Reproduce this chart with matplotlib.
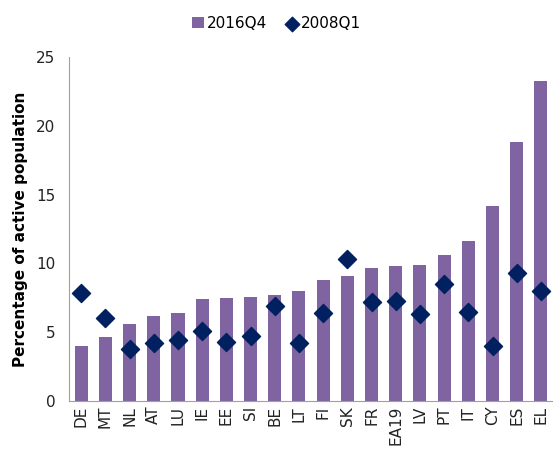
import matplotlib
matplotlib.use('Agg')
import matplotlib.pyplot as plt
import numpy as np

# unemployment rates by country
countries = ['DE', 'MT', 'NL', 'AT', 'LU', 'IE', 'EE', 'SI', 'BE', 'LT',
             'FI', 'SK', 'FR', 'EA19', 'LV', 'PT', 'IT', 'CY', 'ES', 'EL']
rate_2016q4 = [4.0, 4.65, 5.6, 6.2, 6.4, 7.4, 7.5, 7.55, 7.7, 8.0,
               8.8, 9.1, 9.7, 9.8, 9.9, 10.6, 11.6, 14.2, 18.8, 23.3]
rate_2008q1 = [7.85, 6.0, 3.75, 4.2, 4.4, 5.1, 4.3, 4.7, 6.9, 4.2,
               6.4, 10.3, 7.2, 7.3, 6.3, 8.5, 6.5, 4.0, 9.3, 8.0]

bar_color = '#8064A2'
dot_color = '#002060'

fig = plt.figure(figsize=(5.53, 4.5), dpi=100)
ax = fig.add_axes([0.125, 0.109, 0.875, 0.764])

x = np.arange(len(countries))
bars = ax.bar(x, rate_2016q4, width=0.54, color=bar_color, label='2016Q4', zorder=2)
dots = ax.scatter(x, rate_2008q1, marker='D', s=85, color=dot_color, label='2008Q1', zorder=3)

ax.set_xlim(-0.5, len(countries) - 0.5)
ax.set_ylim(0, 25)
ax.set_yticks([0, 5, 10, 15, 20, 25])
ax.set_xticks(x)
ax.set_xticklabels(countries, rotation=90)
ax.tick_params(axis='both', length=0, labelsize=11, colors='#222222')
ax.tick_params(axis='y', pad=10)

for side in ['top', 'right']:
    ax.spines[side].set_visible(False)
for side in ['left', 'bottom']:
    ax.spines[side].set_color('#a0a0a0')

ax.set_ylabel('Percentage of active population', fontsize=11, fontweight='bold', labelpad=6)

fig.legend([bars, dots], ['2016Q4', '2008Q1'], loc='upper center',
           bbox_to_anchor=(0.5, 0.995), ncol=2, frameon=False,
           fontsize=11, handlelength=0.8, handletextpad=0.2, columnspacing=1.2,
           markerscale=0.8)

fig.savefig('out.png', dpi=100)
